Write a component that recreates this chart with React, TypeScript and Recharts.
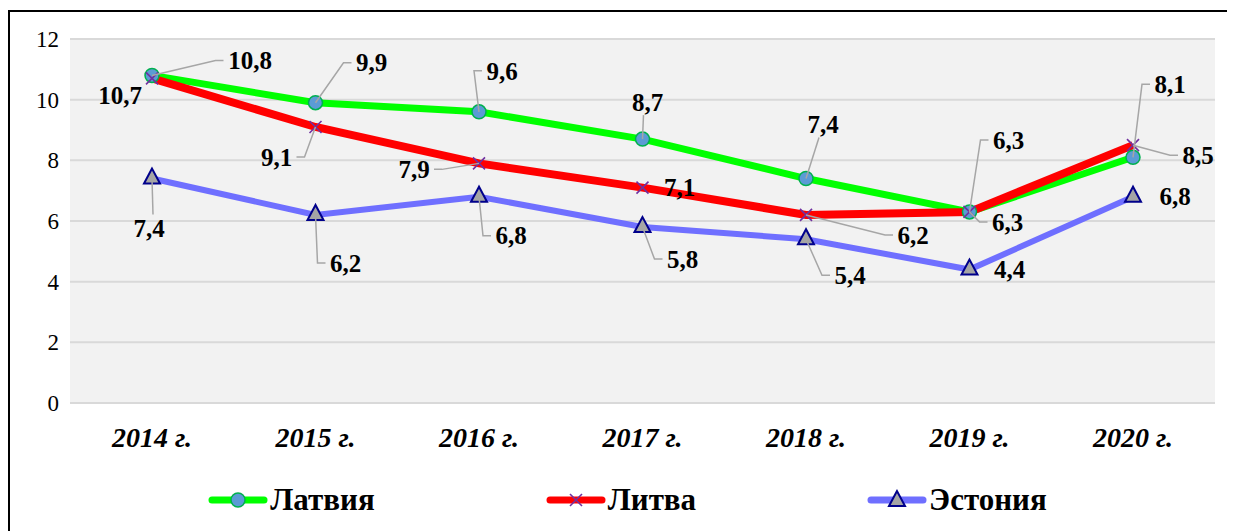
import React from "react";
import { LineChart, Line, XAxis, YAxis, CartesianGrid, Legend, LabelList } from "recharts";

const years = ["2014 г.", "2015 г.", "2016 г.", "2017 г.", "2018 г.", "2019 г.", "2020 г."];
const latvia = [10.8, 9.9, 9.6, 8.7, 7.4, 6.3, 8.1];
const lithuania = [10.7, 9.1, 7.9, 7.1, 6.2, 6.3, 8.5];
const estonia = [7.4, 6.2, 6.8, 5.8, 5.4, 4.4, 6.8];
const yTicks = [0, 2, 4, 6, 8, 10, 12];

// label offsets from the point: [dx, dy, leader]
const latviaLabels = [[98, -15, 1], [56, -40, 1], [23, -41, 1], [5, -37, 1], [17, -54, 1], [39, -72, 1], [37, -73, 1]];
const lithuaniaLabels = [[-32, 17, 0], [-39, 30, 1], [-65, 6, 1], [37, 0, 0], [107, 20, 1], [38, 10, 1], [65, 10, 1]];
const estoniaLabels = [[-3, 50, 1], [30, 48, 1], [32, 39, 1], [40, 32, 1], [44, 36, 1], [40, 0, 0], [42, 0, 0]];

const data = years.map((y, i) => ({ year: y, lv: latvia[i], lt: lithuania[i], ee: estonia[i] }));

const FONT = "'Liberation Serif', 'DejaVu Serif', serif";
const LEADER = "#a6a6a6";

const fmt = (v: number) => v.toFixed(1).replace(".", ",");

function Marker({ kind, cx, cy }: { kind: string; cx: number; cy: number }) {
  if (kind === "circle")
    return <circle cx={cx} cy={cy} r={7} fill="#5b9bd5" stroke="#00b050" strokeWidth={1.5} />;
  if (kind === "cross")
    return (
      <g stroke="#7030a0" strokeWidth={1.6}>
        <line x1={cx - 6} y1={cy - 6} x2={cx + 6} y2={cy + 6} />
        <line x1={cx - 6} y1={cy + 6} x2={cx + 6} y2={cy - 6} />
      </g>
    );
  return (
    <polygon
      points={`${cx},${cy - 10} ${cx - 8},${cy + 5} ${cx + 8},${cy + 5}`}
      fill="#a5a5a5"
      stroke="#00008b"
      strokeWidth={2}
    />
  );
}

const makeDot = (kind: string) => (p: any) =>
  <Marker key={`${kind}-${p.index}`} kind={kind} cx={p.cx} cy={p.cy} />;

const makeLabel = (offsets: number[][]) => (p: any) => {
  const { x, y, value, index } = p;
  const [dx, dy, leader] = offsets[index];
  const tx = x + dx;
  const ty = y + dy;
  const text = fmt(value);
  const hw = (text.length - 1) * 6.5 + 3;
  let path = "";
  if (leader) {
    if (Math.abs(dx) > hw + 6) {
      const side = dx > 0 ? -1 : 1;
      const ex = tx + side * (hw + 12);
      const hx = tx + side * (hw + 4);
      path = `M${x},${y}L${ex},${ty}L${hx},${ty}`;
    } else {
      const ey = dy < 0 ? ty + 13 : ty - 14;
      path = `M${x},${y}L${tx - Math.sign(dx) * 4},${ey}`;
    }
  }
  return (
    <g key={`lbl-${index}`}>
      {path && <path d={path} stroke={LEADER} strokeWidth={1.5} fill="none" />}
      <text
        x={tx}
        y={ty}
        dy="0.35em"
        textAnchor="middle"
        fontFamily={FONT}
        fontWeight="bold"
        fontSize={25}
        fill="#000"
      >
        {text}
      </text>
    </g>
  );
};

const XTick = (p: any) => (
  <text
    x={p.x}
    y={p.y}
    dy={36}
    textAnchor="middle"
    fontFamily={FONT}
    fontWeight="bold"
    fontStyle="italic"
    fontSize={28}
    fill="#000"
  >
    {p.payload.value}
  </text>
);

const YTick = (p: any) => (
  <text x={p.x - 3} y={p.y} dy="0.35em" textAnchor="end" fontFamily={FONT} fontSize={23} fill="#000">
    {p.payload.value}
  </text>
);

const legendItems = [
  { name: "Латвия", color: "#00ff00", kind: "circle" },
  { name: "Литва", color: "#ff0000", kind: "cross" },
  { name: "Эстония", color: "#6f6fff", kind: "triangle" },
];

const LegendContent = () => (
  <div style={{ display: "flex", justifyContent: "center", alignItems: "center", gap: 171, height: 60, paddingTop: 22, paddingLeft: 30, boxSizing: "border-box" }}>
    {legendItems.map((it) => (
      <div key={it.name} style={{ display: "flex", alignItems: "center" }}>
        <svg width={60} height={24}>
          <line x1={4} y1={12} x2={56} y2={12} stroke={it.color} strokeWidth={7} strokeLinecap="round" />
          <Marker kind={it.kind} cx={30} cy={it.kind === "triangle" ? 13 : 12} />
        </svg>
        <span style={{ fontFamily: FONT, fontWeight: "bold", fontSize: 31, color: "#000", marginLeft: 2 }}>{it.name}</span>
      </div>
    ))}
  </div>
);

export default function App() {
  return (
    <div style={{ width: 1220, border: "2px solid #000", marginTop: 2, background: "#fff" }}>
      <LineChart width={1220} height={521} data={data} margin={{ top: 27, right: 15, bottom: 14, left: 0 }}>
        <CartesianGrid vertical={false} fill="#f2f2f2" stroke="#d9d9d9" strokeWidth={2} />
        <XAxis
          dataKey="year"
          axisLine={{ stroke: "#d9d9d9", strokeWidth: 2 }}
          tickLine={false}
          tick={<XTick />}
          height={56}
          interval={0}
          padding={{ left: 82, right: 82 }}
        />
        <YAxis domain={[0, 12]} ticks={yTicks} axisLine={false} tickLine={false} tick={<YTick />} width={60} />
        <Legend verticalAlign="bottom" height={60} content={<LegendContent />} />
        <Line dataKey="lv" stroke="#00ff00" strokeWidth={7} dot={makeDot("circle")} activeDot={false} isAnimationActive={false}>
          <LabelList dataKey="lv" content={makeLabel(latviaLabels)} />
        </Line>
        <Line dataKey="lt" stroke="#ff0000" strokeWidth={8} dot={makeDot("cross")} activeDot={false} isAnimationActive={false}>
          <LabelList dataKey="lt" content={makeLabel(lithuaniaLabels)} />
        </Line>
        <Line dataKey="ee" stroke="#6f6fff" strokeWidth={6} dot={makeDot("triangle")} activeDot={false} isAnimationActive={false}>
          <LabelList dataKey="ee" content={makeLabel(estoniaLabels)} />
        </Line>
      </LineChart>
    </div>
  );
}
